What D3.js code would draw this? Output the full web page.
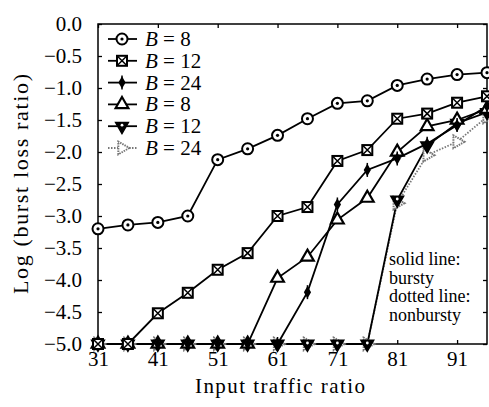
<!DOCTYPE html>
<html>
<head>
<meta charset="utf-8">
<script src="https://cdn.jsdelivr.net/npm/d3@7/dist/d3.min.js"></script>
<style>
  html, body { margin: 0; padding: 0; background: #fff; }
  svg { display: block; }
  text { font-family: "Liberation Serif", "DejaVu Serif", serif; fill: #000; }
</style>
</head>
<body>
<script>
// ---------------- data ----------------
const xValues = [31, 36, 41, 46, 51, 56, 61, 66, 71, 76, 81, 86, 91, 96];
const burstyB8  = [-3.2, -3.14, -3.1, -3.0, -2.12, -1.95, -1.74, -1.48, -1.24, -1.2, -0.96, -0.86, -0.79, -0.76];
const burstyB12 = [-5, -5, -4.52, -4.2, -3.84, -3.58, -3.0, -2.86, -2.14, -1.97, -1.48, -1.4, -1.23, -1.13];
const burstyB24 = [-5, -5, -5, -5, -5, -5, -5, -4.19, -2.82, -2.28, -2.1, -1.87, -1.58, -1.28];
const nonburstyB8  = [-5, -5, -5, -5, -5, -5, -3.97, -3.64, -3.06, -2.72, -2.0, -1.6, -1.5, -1.33];
const nonburstyB12 = [-5, -5, -5, -5, -5, -5, -5, -5, -5, -5, -2.75, -1.9, -1.55, -1.38];
const nonburstyB24 = [-5, -5, -5, -5, -5, -5, -5, -5, -5, -5, -2.8, -2.05, -1.84, -1.45];
const xTickValues = [31, 41, 51, 61, 71, 81, 91];
const yTickValues = [0, -0.5, -1, -1.5, -2, -2.5, -3, -3.5, -4, -4.5, -5];
const legendLabels = ["8", "12", "24", "8", "12", "24"];
const xTitle = "Input traffic ratio";
const yTitle = "Log (burst loss ratio)";
const noteLines = ["solid line:", "bursty", "dotted line:", "nonbursty"];

// ---------------- layout ----------------
const W = 489, H = 407;
const L = 98, R = 487, T = 24, B = 344;

const x = d3.scaleLinear().domain([31, 96]).range([L, R]);
const y = d3.scaleLinear().domain([-5, 0]).range([B, T]);

const svg = d3.select("body").append("svg").attr("width", W).attr("height", H);

const fmt = v => (v < 0 ? "\u2212" : "") + Math.abs(v).toFixed(1);

// axes (ticks inward)
const axL = svg.append("g").attr("transform", `translate(${L},0)`)
  .call(d3.axisLeft(y).tickValues(yTickValues).tickSize(-4).tickPadding(16).tickFormat(fmt));
const axR = svg.append("g").attr("transform", `translate(${R},0)`)
  .call(d3.axisRight(y).tickValues(yTickValues).tickSize(-4).tickFormat(""));
const axB = svg.append("g").attr("transform", `translate(0,${B})`)
  .call(d3.axisBottom(x).tickValues(xTickValues).tickSize(-4).tickPadding(7).tickFormat(d3.format("d")));
const axT = svg.append("g").attr("transform", `translate(0,${T})`)
  .call(d3.axisTop(x).tickValues(xTickValues).tickSize(-4).tickFormat(""));
[axL, axR, axB, axT].forEach(g => {
  g.select(".domain").remove();
  g.selectAll(".tick line").attr("stroke", "#000").attr("stroke-width", 1.3);
});
axL.selectAll("text").style("font-size", "21px").attr("font-family", null);
axB.selectAll("text").style("font-size", "21px").attr("font-family", null);

// frame
svg.append("rect").attr("x", L).attr("y", T).attr("width", R - L).attr("height", B - T)
  .attr("fill", "none").attr("stroke", "#000").attr("stroke-width", 1.5);

// titles
svg.append("text").attr("x", 280).attr("y", 393)
  .attr("text-anchor", "middle").style("font-size", "21px")
  .attr("textLength", 170).attr("lengthAdjust", "spacing").text(xTitle);
svg.append("text").attr("transform", `translate(28,${(T + B) / 2}) rotate(-90)`)
  .attr("text-anchor", "middle").style("font-size", "22px")
  .attr("textLength", 220).attr("lengthAdjust", "spacing").text(yTitle);

// series definitions
const series = [
  { vals: burstyB8,    marker: "circle",  color: "#000", dash: null },
  { vals: burstyB12,   marker: "square",  color: "#000", dash: null },
  { vals: burstyB24,   marker: "star",    color: "#000", dash: null },
  { vals: nonburstyB8, marker: "tri",     color: "#000", dash: null },
  { vals: nonburstyB12,marker: "dtri",    color: "#000", dash: null },
  { vals: nonburstyB24,marker: "rtri",    color: "#777", dash: "1.5,1.5" }
];

function drawMarker(g, type, color) {
  if (type === "circle") {
    g.append("circle").attr("r", 5.5).attr("fill", "#fff").attr("stroke", color).attr("stroke-width", 2);
    g.append("circle").attr("r", 1.6).attr("fill", color);
  } else if (type === "square") {
    g.append("rect").attr("x", -5).attr("y", -5).attr("width", 10).attr("height", 10)
      .attr("fill", "#fff").attr("stroke", color).attr("stroke-width", 2);
    g.append("path").attr("d", "M-5,-5L5,5M-5,5L5,-5").attr("stroke", color).attr("stroke-width", 1.5);
  } else if (type === "star") {
    g.append("path").attr("d", d3.symbol(d3.symbolDiamond, 45)()).attr("fill", color);
    g.append("path").attr("d", "M0,-7L0,7").attr("stroke", color).attr("stroke-width", 1.5);
  } else if (type === "tri") {
    g.append("path").attr("d", d3.symbol(d3.symbolTriangle, 70)()).attr("fill", "#fff")
      .attr("stroke", color).attr("stroke-width", 2.2);
  } else if (type === "dtri") {
    g.append("path").attr("d", d3.symbol(d3.symbolTriangle, 70)()).attr("transform", "rotate(180)")
      .attr("fill", color).attr("stroke", color).attr("stroke-width", 1.5);
    g.append("circle").attr("r", 1.4).attr("cy", -1).attr("fill", "#fff");
  } else if (type === "rtri") {
    g.append("path").attr("d", d3.symbol(d3.symbolTriangle, 70)()).attr("transform", "rotate(90)")
      .attr("fill", "#fff").attr("stroke", color).attr("stroke-width", 2)
      .attr("stroke-dasharray", "1.5,1");
  }
}

const line = d3.line().x((d, i) => x(xValues[i])).y(d => y(d));

// draw lines then markers (reverse so first series on top)
series.slice().reverse().forEach(s => {
  svg.append("path").datum(s.vals).attr("d", line)
    .attr("fill", "none").attr("stroke", s.color).attr("stroke-width", 1.8)
    .attr("stroke-dasharray", s.dash);
});
series.slice().reverse().forEach(s => {
  s.vals.forEach((v, i) => {
    const g = svg.append("g").attr("transform", `translate(${x(xValues[i])},${y(v)})`);
    drawMarker(g, s.marker, s.color);
  });
});

// legend
const legY0 = 39, legDy = 21.8;
series.forEach((s, i) => {
  const yy = legY0 + i * legDy;
  svg.append("line").attr("x1", 108).attr("x2", 137).attr("y1", yy).attr("y2", yy)
    .attr("stroke", s.color).attr("stroke-width", 1.8).attr("stroke-dasharray", s.dash);
  const g = svg.append("g").attr("transform", `translate(122,${yy})`);
  drawMarker(g, s.marker, s.color);
  const t = svg.append("text").attr("x", 145).attr("y", yy + 7).style("font-size", "21px");
  t.append("tspan").style("font-style", "italic").text("B");
  t.append("tspan").text(" = " + legendLabels[i]);
});

// note
noteLines.forEach((ln, i) => {
  svg.append("text").attr("x", 389).attr("y", 265 + i * 18.5).style("font-size", "18px").text(ln);
});
</script>
</body>
</html>
